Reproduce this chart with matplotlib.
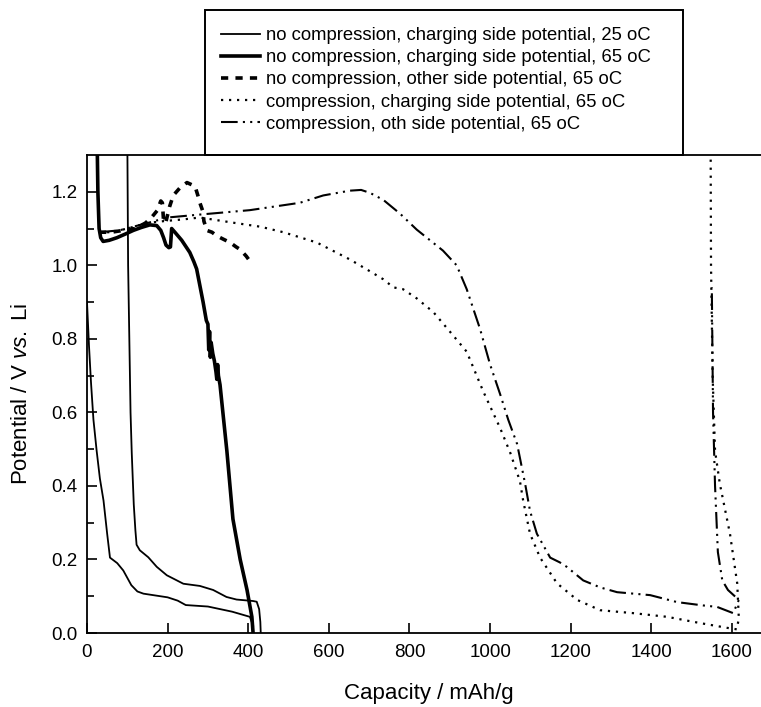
import matplotlib
matplotlib.use("Agg")
import matplotlib.pyplot as plt
import matplotlib.patches as mpatches
import numpy as np

plt.rcParams['font.family'] = ['Liberation Sans', 'DejaVu Sans']
plt.rcParams['mathtext.fontset'] = 'custom'
plt.rcParams['mathtext.it'] = 'Liberation Sans:italic'
plt.rcParams['mathtext.rm'] = 'Liberation Sans'

# ---- data ----
# no compression, charging side, 25 oC (two traces)
x_nc25_a = [0, 5, 10, 16, 24, 32, 41, 50, 57, 75, 90, 100, 110, 125, 140, 200, 225, 245,
            300, 360, 404, 412]
y_nc25_a = [0.90, 0.78, 0.68, 0.58, 0.495, 0.42, 0.36, 0.27, 0.205, 0.19, 0.17, 0.15,
            0.13, 0.113, 0.107, 0.097, 0.088, 0.076, 0.072, 0.058, 0.044, 0.02]
x_nc25_b = [100, 102, 105, 108, 111, 116, 120, 123, 131, 152, 173, 198, 239, 280, 313,
            346, 371, 412, 421, 427, 430, 431]
y_nc25_b = [1.35, 1.0, 0.8, 0.6, 0.49, 0.35, 0.28, 0.24, 0.225, 0.206, 0.18, 0.157,
            0.134, 0.128, 0.117, 0.098, 0.091, 0.087, 0.085, 0.065, 0.03, 0.0]

# no compression, charging side, 65 oC
x_nc65_c = [25, 27, 30, 34, 40, 55, 74, 95, 115, 135, 156, 173, 183, 190, 196, 203, 207,
            210, 218, 235, 255, 265, 272, 280, 288, 296, 300, 302, 304, 306, 308, 312,
            316, 320, 322, 324, 326, 330, 338, 347, 362, 380, 397, 409, 412]
y_nc65_c = [1.35, 1.2, 1.1, 1.075, 1.065, 1.068, 1.075, 1.085, 1.095, 1.103, 1.11, 1.108,
            1.095, 1.075, 1.055, 1.048, 1.05, 1.10, 1.09, 1.068, 1.035, 1.01, 0.99, 0.945,
            0.9, 0.85, 0.84, 0.77, 0.82, 0.75, 0.79, 0.76, 0.74, 0.71, 0.69, 0.73, 0.70,
            0.675, 0.59, 0.495, 0.31, 0.2, 0.117, 0.044, 0.0]

# no compression, other side, 65 oC
x_nc65_o = [30, 60, 90, 120, 145, 160, 175, 183, 187, 190, 195, 205, 214, 230, 248, 268,
            275, 280, 288, 290, 293, 297, 310, 322, 340, 355, 370, 380, 395, 405, 412]
y_nc65_o = [1.09, 1.09, 1.095, 1.10, 1.115, 1.13, 1.15, 1.175, 1.17, 1.12, 1.115, 1.16,
            1.19, 1.21, 1.225, 1.215, 1.19, 1.17, 1.145, 1.12, 1.11, 1.095, 1.09, 1.08,
            1.07, 1.062, 1.05, 1.043, 1.025, 1.01, 1.003]

# compression, charging side, 65 oC
x_c65_c = [30, 60, 100, 150, 189, 240, 280, 362, 430, 487, 570, 652, 700, 735, 760, 784,
           818, 859, 900, 942, 983, 1025, 1050, 1074, 1082, 1099, 1124, 1166, 1216, 1273,
           1355, 1439, 1521, 1588, 1612, 1617, 1613, 1595, 1570, 1558, 1552, 1548, 1547]
y_c65_c = [1.09, 1.09, 1.10, 1.115, 1.12, 1.125, 1.13, 1.116, 1.105, 1.09, 1.062, 1.016,
           0.985, 0.962, 0.94, 0.935, 0.91, 0.873, 0.82, 0.765, 0.657, 0.557, 0.49, 0.413,
           0.36, 0.27, 0.205, 0.135, 0.09, 0.062, 0.054, 0.044, 0.027, 0.014, 0.01, 0.04,
           0.135, 0.27, 0.405, 0.495, 0.7, 1.0, 1.35]

# compression, other side, 65 oC
x_c65_o = [30, 80, 150, 200, 280, 404, 528, 586, 652, 680, 702, 735, 777, 818, 883, 917,
           942, 975, 1000, 1025, 1045, 1067, 1074, 1087, 1099, 1116, 1149, 1173, 1190,
           1231, 1273, 1315, 1397, 1464, 1528, 1563, 1603, 1617, 1590, 1576, 1565, 1558,
           1553, 1550]
y_c65_o = [1.09, 1.095, 1.115, 1.13, 1.138, 1.15, 1.17, 1.19, 1.203, 1.205, 1.197, 1.178,
           1.14, 1.097, 1.04, 1.0, 0.935, 0.827, 0.73, 0.649, 0.58, 0.514, 0.476, 0.405,
           0.332, 0.27, 0.205, 0.192, 0.18, 0.143, 0.124, 0.111, 0.103, 0.084, 0.075,
           0.071, 0.054, 0.09, 0.117, 0.143, 0.22, 0.4, 0.6, 0.94]

labels = ["no compression, charging side potential, 25 oC",
          "no compression, charging side potential, 65 oC",
          "no compression, other side potential, 65 oC",
          "compression, charging side potential, 65 oC",
          "compression, oth side potential, 65 oC"]

x_ticks = [0, 200, 400, 600, 800, 1000, 1200, 1400, 1600]
y_ticks = [0.0, 0.2, 0.4, 0.6, 0.8, 1.0, 1.2]

W, H = 761, 707
fig = plt.figure(figsize=(W / 100, H / 100), dpi=100)
ax = fig.add_axes([87 / W, 1 - 633 / H, (W - 87) / W, (633 - 155) / H])

k = 'black'
l1, = ax.plot(x_nc25_a, y_nc25_a, color=k, lw=1.3, label=labels[0])
ax.plot(x_nc25_b, y_nc25_b, color=k, lw=1.3)
l2, = ax.plot(x_nc65_c, y_nc65_c, color=k, lw=2.6, label=labels[1])
l3, = ax.plot(x_nc65_o, y_nc65_o, color=k, lw=2.6, ls=(0, (2.0, 2.0)), label=labels[2])
l4, = ax.plot(x_c65_c, y_c65_c, color=k, lw=1.6, ls=(0, (1, 2.6)), label=labels[3])
l5, = ax.plot(x_c65_o, y_c65_o, color=k, lw=1.5, ls=(0, (8, 2.5, 1, 2.5, 1, 2.5)),
              label=labels[4])

ax.set_xlim(0, 1672)
ax.set_ylim(0, 1.3)
ax.set_xticks(x_ticks)
ax.set_yticks(y_ticks)
ax.set_yticks(np.arange(0.1, 1.3, 0.2), minor=True)
ax.set_yticklabels([f"{v:.1f}" for v in y_ticks])
ax.tick_params(axis='both', which='both', direction='in', width=1.2, labelsize=13.5)
ax.tick_params(axis='both', which='major', length=7)
ax.tick_params(axis='y', which='minor', length=5)
ax.tick_params(axis='y', pad=7)
ax.tick_params(axis='x', pad=8)
for s in ['left', 'bottom', 'top']:
    ax.spines[s].set_linewidth(1.3)
ax.spines['right'].set_visible(False)

ax.set_xlabel("Capacity / mAh/g", fontsize=16, va='center')
ax.xaxis.set_label_coords((429 - 87) / (W - 87), -(693 - 633) / (633 - 155))
ax.set_ylabel(r"Potential / V $\it{vs.}$ Li", fontsize=16, va='center')
ax.yaxis.set_label_coords(-(87 - 22) / (W - 87), 0.5)

leg = fig.legend(handles=[l1, l2, l3, l4, l5], loc='center left',
                 bbox_to_anchor=(212 / W, 1 - 80 / H), frameon=False,
                 fontsize=13.3, handlelength=2.1, handletextpad=0.35,
                 labelspacing=0.28, borderpad=0.0)
rect = mpatches.Rectangle((205 / W, 1 - 155 / H), (683 - 205) / W, 145 / H,
                          transform=fig.transFigure, fill=False, lw=1.4,
                          edgecolor='black')
fig.patches.append(rect)

fig.savefig("out.png", dpi=100)
